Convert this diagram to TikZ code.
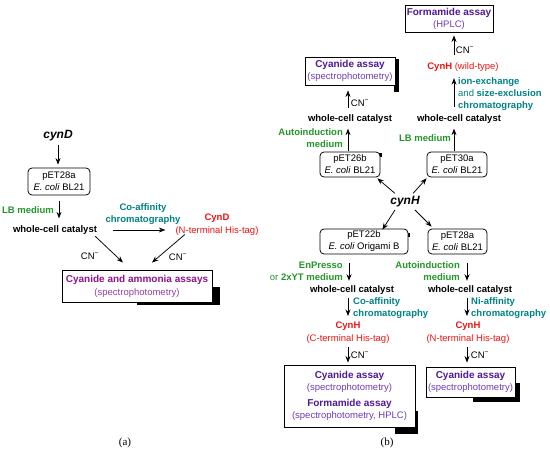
\documentclass[tikz,border=0pt]{standalone}
\usepackage{fontspec}
\setmainfont{Liberation Sans}
\newfontfamily\capfont{Liberation Serif}
\usetikzlibrary{arrows.meta,calc,backgrounds}
\newcommand{\LINEPT}{0.75pt}
\newcommand{\TXT}{\fontsize{9.5}{12}\selectfont}
\newcommand{\CN}{CN\textsuperscript{−}}
\newcommand{\ASSAYB}[1]{{\fontsize{10}{12}\selectfont\bfseries\color{myindigo}#1}}
\newcommand{\ASSAYM}[1]{{\color{mylilac}#1}}
\definecolor{mygreen}{RGB}{34,150,40}
\definecolor{myteal}{RGB}{0,130,130}
\definecolor{myred}{RGB}{238,20,20}
\definecolor{myindigo}{RGB}{80,25,150}
\definecolor{mylilac}{RGB}{112,60,182}
\definecolor{mymagenta}{RGB}{140,20,140}
\definecolor{myorchid}{RGB}{150,60,172}
\tikzset{
	arr/.style={-{Stealth[length=6.5pt,width=5pt]},line width=\LINEPT},
	plain/.style={font=\TXT,inner sep=0pt,align=center},
	bold/.style={font=\TXT\bfseries,inner sep=0pt,align=center},
	gene/.style={font=\fontsize{12}{14}\selectfont\bfseries\itshape,inner sep=0pt},
	medium/.style={bold,text=mygreen},
	purif/.style={bold,text=myteal,align=left},
	enzyme/.style={plain,text=myred},
	hostbox/.style={plain,draw,rounded corners=4pt,line width=\LINEPT,fill=white,minimum width=60pt,minimum height=25pt},
	assaybox/.style={plain,draw,line width=0.9pt,fill=white},
	shade/.style={fill=black},
	panel/.style={font=\capfont\fontsize{11}{13}\selectfont,inner sep=0pt},
}
\begin{document}
\begin{tikzpicture}[x=1pt,y=-1pt]
	\useasboundingbox (0,0) rectangle (550,452);
	
	%% panel (a)
	\node[gene] (cynD) at (58,136) {cynD};
	\node[hostbox,minimum width=62pt,minimum height=27pt] (pETa) at (59,181.5) {pET28a\\\textit{E. coli} BL21};
	\node[medium] (lbA) at (28,210) {LB medium};
	\node[bold] (wcA) at (55,230) {whole-cell catalyst};
	\node[purif,align=center] (coA) at (143,214) {Co-affinity\\chromatography};
	\node[enzyme] (cynDN) at (217,224.5) {\textbf{CynD}\\[1pt](N-terminal His-tag)};
	\node[plain] (cnA1) at (90,256) {\CN};
	\node[plain] (cnA2) at (178,257) {\CN};
	\node[assaybox,minimum width=150pt,minimum height=32pt] (assayA) at (137,286) {{\fontsize{10}{12}\selectfont\bfseries\color{mymagenta}Cyanide and ammonia assays}\\[1pt]{\color{myorchid}(spectrophotometry)}};
	\node[panel] (labA) at (125,443) {(a)};
	
	\draw[arr,shorten <=3.5pt,shorten >=3pt] (cynD.south) -- (cynD.south |- pETa.north);
	\draw[arr,shorten <=6pt,shorten >=7pt] (pETa.south) -- (pETa.south |- wcA.north);
	\draw[arr,shorten <=16pt,shorten >=10pt] (wcA.east) -- (wcA.east -| cynDN.west);
	\draw[arr] ($(wcA.south east)+(-2,1.6)$) -- ($(assayA.north)+(-14,-7)$);
	\draw[arr] ($(cynDN.south west)+(9.5,-1)$) -- ($(assayA.north)+(15,-7)$);
	
	%% panel (b), top
	\node[assaybox,minimum width=88pt,minimum height=27pt] (formBox) at (449,18.5) {\ASSAYB{Formamide assay}\\\ASSAYM{(HPLC)}};
	\node[plain] (cnF) at (465,50) {\CN};
	\node[enzyme] (cynHwt) at (463,67) {\textbf{CynH} (wild-type)};
	\node[purif,anchor=west] (ionTxt) at (458,94.5) {ion-exchange\\{\mdseries and} size-exclusion\\chromatography};
	\node[bold] (wcR) at (459,119) {whole-cell catalyst};
	\node[medium] (lbR) at (425,138) {LB medium};
	\node[assaybox,minimum width=90pt,minimum height=28pt] (cyanUL) at (350,71) {\ASSAYB{Cyanide assay}\\\ASSAYM{(spectrophotometry)}};
	\node[plain] (cnUL) at (360,103) {\CN};
	\node[bold] (wcUL) at (350,119) {whole-cell catalyst};
	\node[medium,align=right,anchor=east] (autoUL) at (343,138) {Autoinduction\\medium};
	
	%% panel (b), hosts
	\node[hostbox] (pETb) at (350,164.5) {pET26b\\\textit{E. coli} BL21};
	\node[hostbox] (pETc) at (457,164.5) {pET30a\\\textit{E. coli} BL21};
	\node[gene] (cynH) at (405,202) {cynH};
	\node[hostbox,minimum width=88pt] (pETd) at (364,241.5) {pET22b\\\textit{E. coli} Origami B};
	\node[hostbox,minimum width=59pt] (pETe) at (457.5,241.5) {pET28a\\\textit{E. coli} BL21};
	
	%% panel (b), bottom
	\node[medium,align=right,anchor=east] (enTxt) at (343,271.5) {EnPresso\\{\mdseries or} 2xYT medium};
	\node[medium,align=right,anchor=east] (autoLR) at (460,271) {Autoinduction\\medium};
	\node[bold] (wcLL) at (352,290) {whole-cell catalyst};
	\node[bold] (wcLR) at (470,290) {whole-cell catalyst};
	\node[purif,anchor=west] (coLL) at (353,308.5) {Co-affinity\\chromatography};
	\node[purif,anchor=west] (niLR) at (471,308.5) {Ni-affinity\\chromatography};
	\node[enzyme] (cynHC) at (348,332.5) {\textbf{CynH}\\[1pt](C-terminal His-tag)};
	\node[enzyme] (cynHN) at (468,332.5) {\textbf{CynH}\\[1pt](N-terminal His-tag)};
	\node[plain] (cnLL) at (360,355) {\CN};
	\node[plain] (cnLR) at (480,355) {\CN};
	\node[assaybox,minimum width=131pt,minimum height=62pt] (bigBox) at (349.5,396) {\ASSAYB{Cyanide assay}\\\ASSAYM{(spectrophotometry)}\\[4pt]\ASSAYB{Formamide assay}\\\ASSAYM{(spectrophotometry, HPLC)}};
	\node[assaybox,minimum width=89pt,minimum height=30pt] (smallBox) at (470.5,382) {\ASSAYB{Cyanide assay}\\\ASSAYM{(spectrophotometry)}};
	\node[panel] (labB) at (387,443) {(b)};
	
	%% columns
	\coordinate (colA) at (348,0);
	\coordinate (colB) at (454,0);
	\coordinate (colC) at (349,0);
	\coordinate (colD) at (467,0);
	
	\draw[arr,shorten <=7.5pt,shorten >=3pt] (cynHwt.north -| colB) -- (formBox.south -| colB);
	\draw[arr,shorten <=7.5pt,shorten >=6.5pt] (wcR.north -| colB) -- (cynHwt.south -| colB);
	\draw[arr,shorten <=1pt,shorten >=5pt] (pETc.north -| colB) -- (wcR.south -| colB);
	\draw[arr,shorten <=6.5pt,shorten >=5pt] (wcUL.north -| colA) -- (cyanUL.south -| colA);
	\draw[arr,shorten <=1pt,shorten >=5pt] (pETb.north -| colA) -- (wcUL.south -| colA);
	
	\draw[arr] ($(cynH.north)+(-10,-3)$) -- ($(pETb.south east)+(-3,1)$);
	\draw[arr] ($(cynH.north)+(8,-3)$) -- ($(pETc.south west)+(0,1)$);
	\draw[arr] ($(cynH.south)+(-10,2.4)$) -- ($(pETd.north east)+(-26,1)$);
	\draw[arr] ($(cynH.south)+(10,2.4)$) -- ($(pETe.north west)+(4,-2)$);
	
	\draw[arr,shorten <=9pt,shorten >=4.6pt] (pETd.south -| colC) -- (wcLL.north -| colC);
	\draw[arr,shorten <=9pt,shorten >=4.6pt] (pETe.south -| colD) -- (wcLR.north -| colD);
	\draw[arr,shorten <=3.6pt,shorten >=5.5pt] (wcLL.south -| colA) -- (cynHC.north -| colA);
	\draw[arr,shorten <=3.6pt,shorten >=5.5pt] (wcLR.south -| colD) -- (cynHN.north -| colD);
	\draw[arr,shorten <=3.5pt,shorten >=2pt] (cynHC.south -| colA) -- (bigBox.north -| colA);
	\draw[arr,shorten <=3.5pt,shorten >=4pt] (cynHN.south -| colD) -- (smallBox.north -| colD);
	
	%% shadows
	\begin{scope}[on background layer]
		\fill[shade] ($(assayA.south east)+(-75,-15)$) rectangle ($(assayA.south east)+(8,3)$);
		\fill[shade] ($(cyanUL.south east)+(-1,-26)$) rectangle ($(cyanUL.south east)+(4,7)$);
		\fill[shade] ($(bigBox.south east)+(-20,-16)$) rectangle ($(bigBox.south east)+(3,7)$);
		\fill[shade] ($(smallBox.south east)+(-42,-14)$) rectangle ($(smallBox.south east)+(5,5)$);
		\fill[shade] ($(pETb.north east)+(-1,1)$) rectangle ($(pETb.north east)+(2,5)$);
		\fill[shade] ($(pETd.north east)+(-1,4)$) rectangle ($(pETd.north east)+(2,8)$);
	\end{scope}

\end{tikzpicture}
\end{document}
